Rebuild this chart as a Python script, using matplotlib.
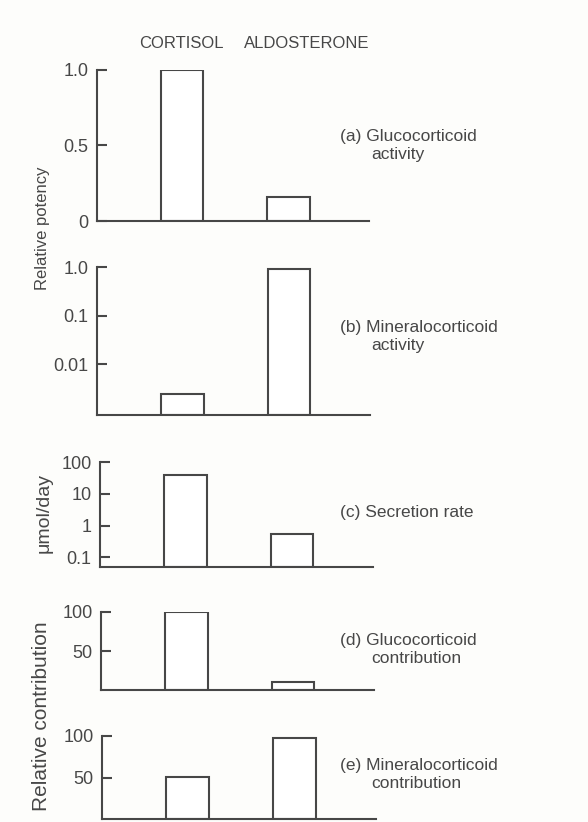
import matplotlib
matplotlib.use('Agg')
import matplotlib.pyplot as plt
import numpy as np

# data
hormones = ['CORTISOL', 'ALDOSTERONE']
gluco_activity = [1.0, 0.16]
mineralo_activity = [0.0024, 0.9]
secretion_rate = [40, 0.55]          # umol/day
gluco_contribution = [100, 10]
mineralo_contribution = [51, 97]

panel_names = ['(a) Glucocorticoid\nactivity',
               '(b) Mineralocorticoid\nactivity',
               '(c) Secretion rate',
               '(d) Glucocorticoid\ncontribution',
               '(e) Mineralocorticoid\ncontribution']

plt.rcParams['font.family'] = ['Liberation Sans', 'DejaVu Sans']
ink = '#474747'
W, H = 588, 822

fig = plt.figure(figsize=(W / 100, H / 100), dpi=100)
fig.patch.set_facecolor('#fdfdfb')

def px_axes(x0, x1, ytop, ybot):
    return fig.add_axes([x0 / W, 1 - ybot / H, (x1 - x0) / W, (ybot - ytop) / H])

def fx(x):
    return x / W

def fy(y):
    return 1 - y / H

# (left px, right px, top px, baseline px)
layout = [(97, 369, 70, 221),
          (97, 370, 267, 415),
          (100, 373, 462, 567),
          (101, 374, 612, 690),
          (102, 376, 736, 819)]

series = [gluco_activity, mineralo_activity, secretion_rate,
          gluco_contribution, mineralo_contribution]
ylims = [(0, 1.0), (0.0009, 1.0), (0.05, 100), (0, 100), (0, 100)]
yscales = ['linear', 'log', 'log', 'linear', 'linear']
yticks = [[0, 0.5, 1.0], [0.01, 0.1, 1.0], [0.1, 1, 10, 100], [50, 100], [50, 100]]
yticklabels = [['0', '0.5', '1.0'], ['0.01', '0.1', '1.0'],
               ['0.1', '1', '10', '100'], ['50', '100'], ['50', '100']]

x = np.arange(len(hormones))
for i in range(5):
    l, r, t, b = layout[i]
    ax = px_axes(l, r, t, b)
    ax.set_facecolor('none')
    ax.set_yscale(yscales[i])
    lo, hi = ylims[i]
    ax.bar(x, np.array(series[i]) - lo, bottom=lo, width=0.40,
           facecolor='white', edgecolor=ink, linewidth=1.5)
    ax.set_xlim(-0.80, 1.76)
    ax.set_ylim(lo, hi)
    ax.set_yticks(yticks[i])
    ax.set_yticklabels(yticklabels[i])
    ax.minorticks_off()
    ax.set_xticks([])
    for s in ['top', 'right']:
        ax.spines[s].set_visible(False)
    for s in ['left', 'bottom']:
        ax.spines[s].set_color(ink)
        ax.spines[s].set_linewidth(1.5)
    ax.tick_params(axis='y', direction='in', length=7, width=1.5, color=ink,
                   labelcolor=ink, labelsize=13, pad=6)
    # panel caption to the right
    first, *rest = panel_names[i].split('\n')
    cy = [137, 327, 513, 640, 765][i]
    fig.text(fx(340), fy(cy), first, fontsize=12.5, color=ink, va='center', ha='left')
    if rest:
        fig.text(fx(371), fy(cy + 18), rest[0], fontsize=12.5, color=ink,
                 va='center', ha='left')

# column headings
fig.text(fx(181), fy(44), hormones[0], fontsize=12, color=ink, ha='center', va='center')
fig.text(fx(307), fy(44), hormones[1], fontsize=12, color=ink, ha='center', va='center')

# shared y labels
fig.text(fx(42), fy(228), 'Relative potency', rotation=90, fontsize=12, color=ink,
         ha='center', va='center')
fig.text(fx(44), fy(513), '\u03bcmol/day', rotation=90, fontsize=14, color=ink,
         ha='center', va='center')
fig.text(fx(42), fy(716), 'Relative contribution', rotation=90, fontsize=15, color=ink,
         ha='center', va='center')

fig.savefig('out.png', dpi=100, facecolor=fig.get_facecolor())
